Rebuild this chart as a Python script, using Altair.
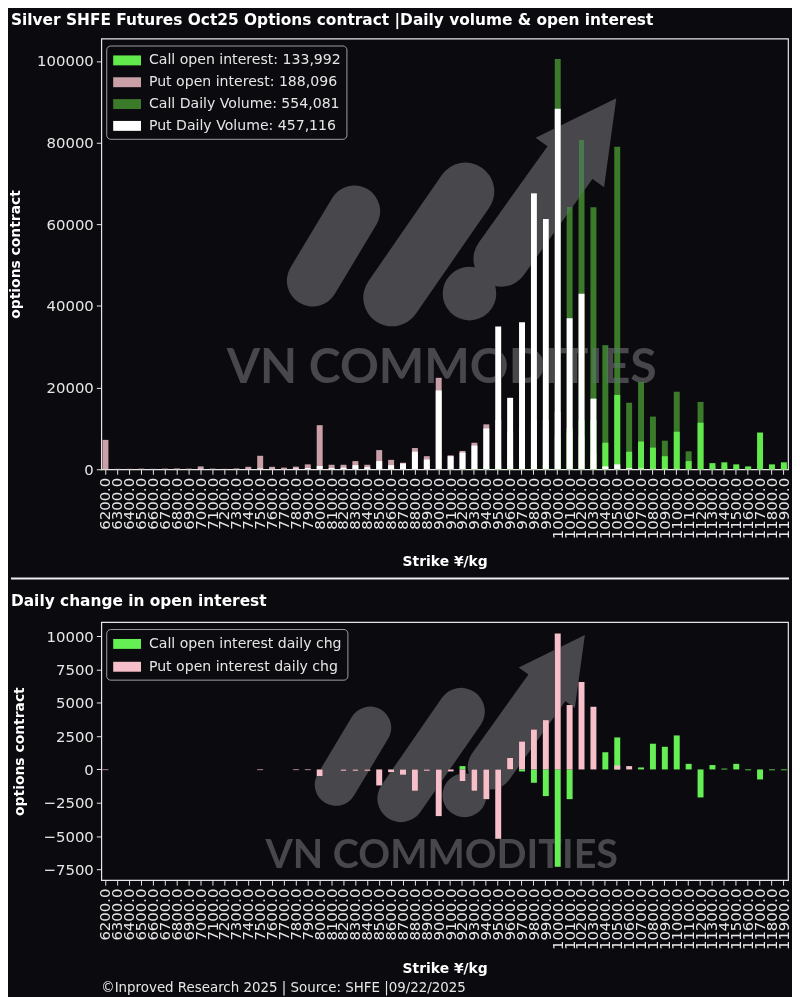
import altair as alt
import pandas as pd

# ---------------- data ----------------
strikes = list(range(6200, 12000, 100))
strike_labels = [f"{s}.0" for s in strikes]

call_oi = [0, 0, 0, 0, 0, 0, 0, 0, 0, 0,
           0, 0, 0, 0, 0, 0, 0, 0, 0, 0,
           0, 0, 0, 0, 0, 0, 0, 0, 0, 0,
           0, 100, 200, 1000, 1000, 1500, 2000, 1000, 8000, 10000,
           12000, 12000, 6500, 18200, 4300, 6800, 5300, 3200, 9200, 2000,
           11400, 1500, 1700, 1200, 700, 9000, 1200, 1700]
put_oi = [7200, 100, 100, 150, 100, 150, 200, 150, 700, 150,
          100, 200, 600, 3300, 600, 400, 650, 1200, 10800, 1100,
          1100, 2000, 1100, 4700, 2300, 1600, 5200, 3200, 22400, 3400,
          4500, 6500, 11000, 12000, 9000, 10000, 12000, 12000, 14000, 9000,
          8000, 4000, 500, 400, 300, 200, 150, 100, 100, 50,
          50, 0, 0, 0, 0, 0, 0, 0]
call_vol = [0, 0, 0, 0, 0, 0, 0, 0, 0, 0,
            0, 0, 0, 0, 0, 0, 0, 0, 0, 0,
            0, 0, 0, 0, 0, 0, 0, 0, 100, 100,
            200, 300, 800, 2000, 3000, 5000, 8000, 10000, 100500, 64300,
            80800, 64200, 30400, 79000, 16300, 21400, 12900, 7000, 19000, 4400,
            16500, 800, 900, 600, 400, 5000, 700, 900]
put_vol = [0, 0, 0, 0, 0, 0, 0, 0, 100, 0,
           0, 0, 100, 200, 100, 0, 200, 300, 800, 300,
           400, 1000, 500, 2000, 1000, 1400, 4300, 2400, 19300, 3200,
           4100, 5800, 10000, 35000, 17500, 36000, 67600, 61300, 88300, 37000,
           43000, 17300, 700, 1200, 300, 200, 100, 100, 100, 0,
           0, 0, 0, 0, 0, 0, 0, 0]
call_chg = [0, 0, 0, 0, 0, 0, 0, 0, 0, 0,
            0, 0, 0, 0, 0, 0, 0, 0, 0, 0,
            0, 0, 0, 0, 0, 0, 0, 0, 0, 0,
            250, 0, 0, 0, 0, -150, -1000, -2000, -7300, -2230,
            0, 0, 1290, 2400, 0, 150, 1930, 1700, 2550, 420,
            -2100, 330, 60, 420, -60, -750, -60, -60]
put_chg = [-50, 0, 0, 0, 0, 0, 0, 0, 0, 0,
           0, 0, 0, -50, 0, 0, -50, -50, -500, 0,
           -100, -100, -100, -1200, -200, -400, -1600, -100, -3500, -150,
           -870, -1600, -2230, -5200, 870, 2100, 3000, 3700, 10200, 4830,
           6560, 4700, 0, 300, 250, 0, 0, 0, 0, 0,
           0, 0, 0, 0, 0, 0, 0, 0]

top_series = ["Call open interest: 133,992", "Put open interest: 188,096",
              "Call Daily Volume: 554,081", "Put Daily Volume: 457,116"]
top_colors = ["#62ea4c", "#c9a0a8", "#3b7a2b", "#ffffff"]
bot_series = ["Call open interest daily chg", "Put open interest daily chg"]
bot_colors = ["#66ee55", "#f6bfca"]

FONT = "DejaVu Sans"
BG = "#0b0b0f"
WM = "#48484c"
W, H1, H2 = 692, 434, 260

# long tables, rows in drawing order (back to front)
top_rows = []
for si, vals in [(2, call_vol), (1, put_oi), (0, call_oi), (3, put_vol)]:
    for lab, v in zip(strike_labels, vals):
        top_rows.append({"strike": lab, "series": top_series[si], "value": v})
top_df = pd.DataFrame(top_rows)

bot_rows = []
for si, vals in [(0, call_chg), (1, put_chg)]:
    for lab, v in zip(strike_labels, vals):
        bot_rows.append({"strike": lab, "series": bot_series[si], "value": v})
bot_df = pd.DataFrame(bot_rows)

one = pd.DataFrame({"k": [0]})


def x_enc(title_pad):
    return alt.X("strike:N",
                 scale=alt.Scale(domain=strike_labels, paddingInner=0.5, paddingOuter=0.1),
                 axis=alt.Axis(title="Strike ¥/kg", labelAngle=270, labelAlign="right",
                               labelBaseline="middle", labelPadding=3, titlePadding=title_pad))


def legend(row_pad):
    return alt.Legend(title=None, orient="none", legendX=5, legendY=7, rowPadding=row_pad)


# watermark (logo + text), geometry given in reference-page pixels of the top panel
LOGO_PILLS = [(312, 280, 354, 210, 52), (392, 297, 466, 190, 58), (502, 258, 572, 160, 56)]


def watermark(origin, dst_center, s):
    cx0, cy0 = 442, 368

    def P(x, y):
        return (dst_center[0] + (x - cx0) * s - origin[0],
                dst_center[1] + (y - cy0) * s - origin[1])

    layers = []
    for (x1, y1, x2, y2, w) in LOGO_PILLS:
        a = P(x1, y1)
        b = P(x2, y2)
        layers.append(alt.Chart(one).mark_rule(color=WM, strokeWidth=w * s, strokeCap="round",
                                               blend="lighten").encode(
            x=alt.value(a[0]), y=alt.value(a[1]), x2=alt.value(b[0]), y2=alt.value(b[1])))
    c = P(470, 293)
    layers.append(alt.Chart(one).mark_point(shape="circle", filled=True, opacity=1, color=WM,
                                            size=(54 * s) ** 2, strokeWidth=0, blend="lighten").encode(
        x=alt.value(c[0]), y=alt.value(c[1])))
    h = P(588.7, 136.6)
    layers.append(alt.Chart(one).mark_point(shape="M0,-1L0.85,0.6L-0.85,0.6Z", filled=True, opacity=1,
                                            color=WM, size=(100 * s) ** 2, angle=35.8, strokeWidth=0,
                                            blend="lighten").encode(
        x=alt.value(h[0]), y=alt.value(h[1])))
    t = P(442, 368)
    layers.append(alt.Chart(one).mark_text(text="VN COMMODITIES", font="Lato", fontWeight="bold",
                                           fontSize=48.5 * s, color=WM, align="center", baseline="middle",
                                           blend="lighten").encode(
        x=alt.value(t[0]), y=alt.value(t[1])))
    return layers


# ---------------- top panel ----------------
top_bars = alt.Chart(top_df).mark_bar(strokeWidth=0).encode(
    x=x_enc(16),
    y=alt.Y("value:Q", stack=None,
            scale=alt.Scale(domain=[0, 105500], nice=False, zero=True),
            axis=alt.Axis(values=[0, 20000, 40000, 60000, 80000, 100000], format="d",
                          title="options contract", titlePadding=14)),
    color=alt.Color("series:N", scale=alt.Scale(domain=top_series, range=top_colors), legend=legend(4)),
)

separator = alt.Chart(one).mark_rule(color="#eeeeee", strokeWidth=2).encode(
    x=alt.value(-91), x2=alt.value(W + 1), y=alt.value(H1 + 110))

top = alt.layer(top_bars, *watermark((99, 36), (442, 368), 1.0), separator).properties(
    width=W, height=H1,
    title=alt.TitleParams("Silver SHFE Futures Oct25 Options contract |Daily volume & open interest",
                          anchor="start", frame="group", dx=-91, fontSize=15.5, font=FONT,
                          fontWeight="bold", color="#ffffff", offset=10))

# ---------------- bottom panel ----------------
bot_bars = alt.Chart(bot_df).mark_bar(strokeWidth=0).encode(
    x=x_enc(12),
    y=alt.Y("value:Q", stack=None,
            scale=alt.Scale(domain=[-8300, 11050], nice=False, zero=False),
            axis=alt.Axis(values=[-7500, -5000, -2500, 0, 2500, 5000, 7500, 10000], format="d",
                          title="options contract", titlePadding=17)),
    color=alt.Color("series:N", scale=alt.Scale(domain=bot_series, range=bot_colors), legend=legend(5)),
)

footer = alt.Chart(one).mark_text(text="©Inproved Research 2025 | Source: SHFE |09/22/2025",
                                  align="left", baseline="middle", fontSize=13.5, font=FONT,
                                  color="#e6e6e6").encode(x=alt.value(0), y=alt.value(369))

bottom = alt.layer(bot_bars, *watermark((99, 622), (442, 858), 0.82), footer).properties(
    width=W, height=H2,
    title=alt.TitleParams("Daily change in open interest", anchor="start", frame="group", dx=-91,
                          fontSize=15.5, font=FONT, fontWeight="bold", color="#ffffff", offset=13))

chart = alt.vconcat(top, bottom, spacing=12).resolve_scale(color="independent").configure(
    background=BG, padding={"left": 0, "right": 0, "top": 0, "bottom": 0}, font=FONT
).configure_view(
    stroke="#e6e6e6", strokeWidth=1.2
).configure_axis(
    domain=False, grid=False, tickColor="#e6e6e6", tickSize=5, labelColor="#e6e6e6",
    labelFont=FONT, labelFontSize=15, titleColor="#ffffff", titleFont=FONT,
    titleFontSize=14, titleFontWeight="bold"
).configure_axisY(
    labelPadding=3
).configure_legend(
    fillColor=BG, strokeColor="#a0a0a0", cornerRadius=4, padding=5, labelFont=FONT,
    labelFontSize=14.2, labelColor="#e6e6e6", labelLimit=400,
    symbolType="M-1.4,-0.5H1.4V0.5H-1.4Z",
    symbolSize=400, symbolStrokeWidth=0, symbolOpacity=1, labelOffset=12,
    symbolOffset=6
)

chart.save("out.html", embed_options={"renderer": "svg", "actions": False})
